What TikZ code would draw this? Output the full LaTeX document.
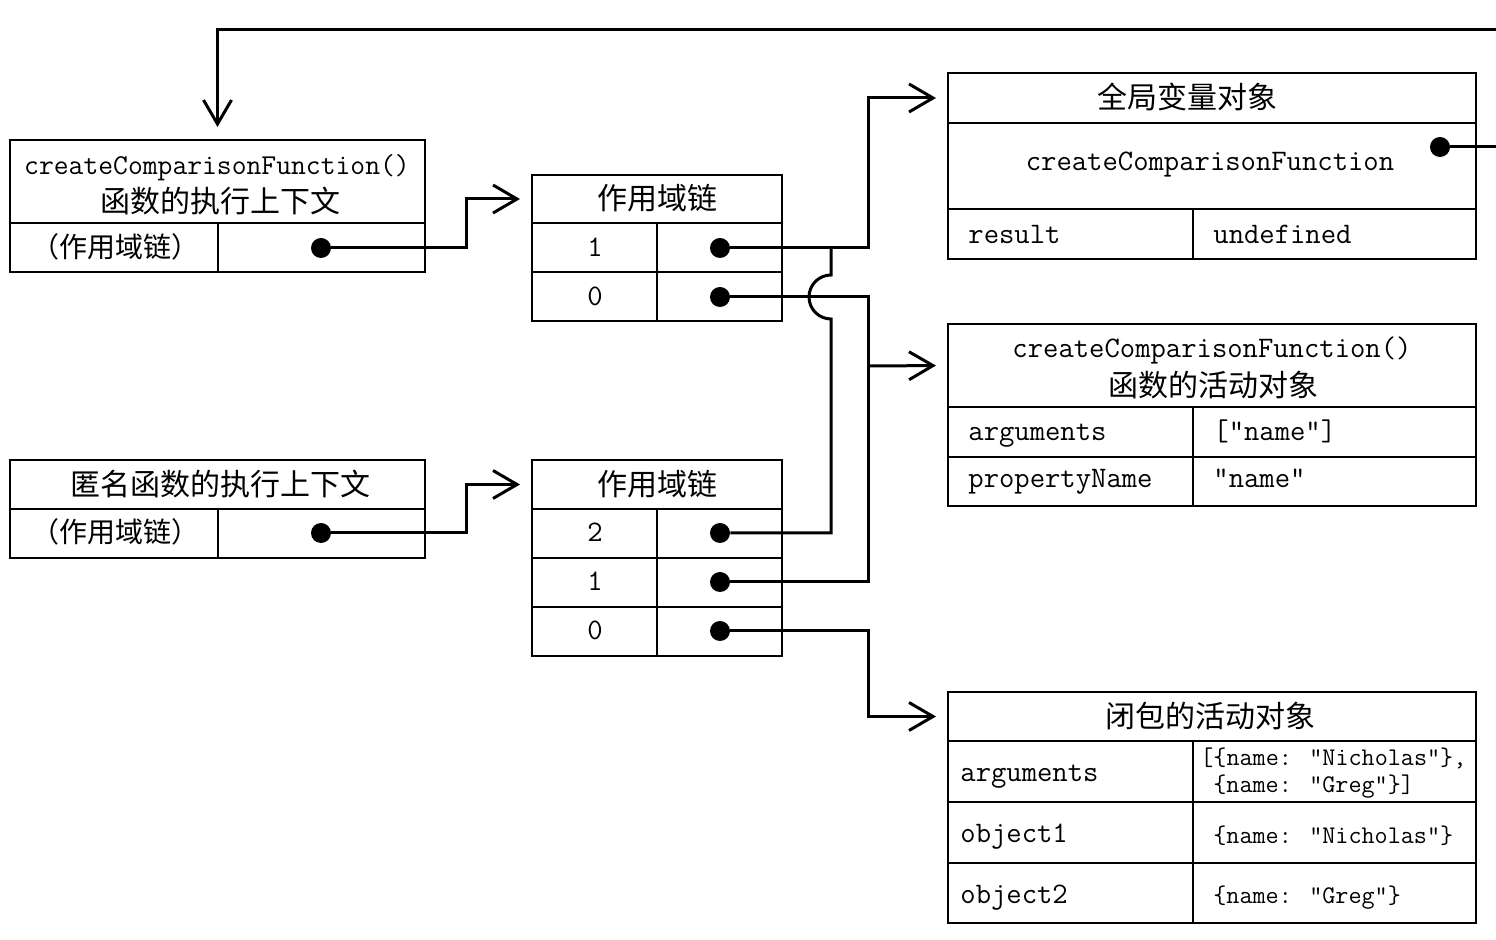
\documentclass[tikz,border=0pt]{standalone}
\usepackage{fontspec}
\newfontfamily\cjk{Noto Sans CJK SC}
\usetikzlibrary{arrows.meta}
\newcommand\cellbox[5]{\node[cell, minimum width={(#4-#2)*0.5pt}, minimum height={(#5-#3)*0.5pt}] (#1) at ({(#2+#4)/2},{(#3+#5)/2}) {};}
\begin{document}
\begin{tikzpicture}[x=0.5pt,y=-0.5pt,
  cell/.style={draw, line width=1pt, inner sep=0pt},
  wire/.style={line width=1.5pt},
  arr/.style={wire, -{Straight Barb[length=12pt,width=14pt]}, shorten >=5.5pt},
  dot/.style={circle, fill, inner sep=0pt, minimum size=10pt},
  tx/.style={inner sep=0pt, text height=9pt, text depth=0pt, font=\fontsize{14.9}{17}\selectfont\ttfamily},
  txs/.style={inner sep=0pt, text height=7.5pt, text depth=0pt, font=\fontsize{12.7}{15}\selectfont\ttfamily},
  cn/.style={inner sep=0pt, font=\fontsize{15}{18}\selectfont\cjk},
  cns/.style={inner sep=0pt, font=\fontsize{14}{16}\selectfont\cjk}
]
\useasboundingbox (0,0) rectangle (1496,940);

% execution context of createComparisonFunction
\cellbox{aHead}{10}{140}{425}{223}
\cellbox{aK}{10}{223}{218}{272}
\cellbox{aV}{218}{223}{425}{272}
\node[tx, font=\fontsize{14.4}{17}\selectfont\ttfamily] (aT1) at (217,166) {createComparisonFunction()};
\node[cn] (aT2) at (220,201) {函数的执行上下文};
\node[cns] (aKT) at (116,247) {（作用域链）};
\node[dot] (aDot) at (321,248) {};

% execution context of anonymous function
\cellbox{bHead}{10}{460}{425}{509}
\cellbox{bK}{10}{509}{218}{558}
\cellbox{bV}{218}{509}{425}{558}
\node[cn] (bT) at (220,484) {匿名函数的执行上下文};
\node[cns] (bKT) at (116,532) {（作用域链）};
\node[dot] (bDot) at (321,533) {};

% scope chain 1
\cellbox{cHead}{532}{175}{782}{223}
\cellbox{c1K}{532}{223}{657}{272}
\cellbox{c1V}{657}{223}{782}{272}
\cellbox{c0K}{532}{272}{657}{321}
\cellbox{c0V}{657}{272}{782}{321}
\node[cn] (cT) at (657,198) {作用域链};
\node[tx] (c1T) at (595,248) {1};
\node[tx] (c0T) at (595,297) {0};
\node[dot] (c1Dot) at (720,248) {};
\node[dot] (c0Dot) at (720,297) {};

% scope chain 2
\cellbox{dHead}{532}{460}{782}{509}
\cellbox{d2K}{532}{509}{657}{558}
\cellbox{d2V}{657}{509}{782}{558}
\cellbox{d1K}{532}{558}{657}{607}
\cellbox{d1V}{657}{558}{782}{607}
\cellbox{d0K}{532}{607}{657}{656}
\cellbox{d0V}{657}{607}{782}{656}
\node[cn] (dT) at (657,484) {作用域链};
\node[tx] (d2T) at (595,533) {2};
\node[tx] (d1T) at (595,582) {1};
\node[tx] (d0T) at (595,631) {0};
\node[dot] (d2Dot) at (720,533) {};
\node[dot] (d1Dot) at (720,582) {};
\node[dot] (d0Dot) at (720,631) {};

% global variable object
\cellbox{gHead}{948}{73}{1476}{123}
\cellbox{gMid}{948}{123}{1476}{209}
\cellbox{gK}{948}{209}{1193}{259}
\cellbox{gV}{1193}{209}{1476}{259}
\node[cn] (gT) at (1187,97) {全局变量对象};
\node[tx] (gMT) at (1210,162) {createComparisonFunction};
\node[tx, anchor=west] (gKT) at (968,235) {result};
\node[tx, anchor=west] (gVT) at (1213,235) {undefined};
\node[dot] (gDot) at (1440,147) {};

% activation object of createComparisonFunction
\cellbox{hHead}{948}{324}{1476}{407}
\cellbox{h1K}{948}{407}{1193}{457}
\cellbox{h1V}{1193}{407}{1476}{457}
\cellbox{h2K}{948}{457}{1193}{506}
\cellbox{h2V}{1193}{457}{1476}{506}
\node[tx] (hT1) at (1212,349) {createComparisonFunction()};
\node[cn] (hT2) at (1213,385) {函数的活动对象};
\node[tx, anchor=west] (h1KT) at (968,432) {arguments};
\node[tx, anchor=west] (h1VT) at (1213,432) {["name"]};
\node[tx, anchor=west] (h2KT) at (968,479) {propertyName};
\node[tx, anchor=west] (h2VT) at (1213,479) {"name"};

% activation object of the closure
\cellbox{kHead}{948}{692}{1476}{741}
\cellbox{k1K}{948}{741}{1193}{802}
\cellbox{k1V}{1193}{741}{1476}{802}
\cellbox{k2K}{948}{802}{1193}{863}
\cellbox{k2V}{1193}{802}{1476}{863}
\cellbox{k3K}{948}{863}{1193}{923}
\cellbox{k3V}{1193}{863}{1476}{923}
\node[cn] (kT) at (1210,716) {闭包的活动对象};
\node[tx, anchor=west] (k1KT) at (960,773) {arguments};
\node[txs, anchor=west] (k1VT1) at (1200,758) {[\{name: "Nicholas"\},};
\node[txs, anchor=west] (k1VT2) at (1213,785) {\{name: "Greg"\}]};
\node[tx, anchor=west] (k2KT) at (960,834) {object1};
\node[txs, anchor=west] (k2VT) at (1213,836) {\{name: "Nicholas"\}};
\node[tx, anchor=west] (k3KT) at (960,895) {object2};
\node[txs, anchor=west] (k3VT) at (1213,896) {\{name: "Greg"\}};

% connectors
\coordinate (jTop) at (831,248);
\coordinate (jAct) at (868,366);
\draw[arr] (aDot) -- (466,248) |- (cHead.west);
\draw[arr] (bDot) -- (466,533) |- (dHead.west);
\draw[arr] (c1Dot) -- (868,248) |- (gHead.west);
\draw[wire] (d2Dot) -- (831,533) -- (831,319) arc[start angle=-90, end angle=-270, radius=11pt] -- (jTop);
\draw[wire] (c0Dot) -- (868,297) -- (868,582) -- (d1Dot);
\draw[arr] (jAct) -- (hHead.west);
\draw[arr] (d0Dot) -- (868,631) |- (kHead.west);
\draw[arr, shorten >=6pt] (gDot) -- (1520,147) -- (1520,30) -| (aHead.north);
\end{tikzpicture}
\end{document}
